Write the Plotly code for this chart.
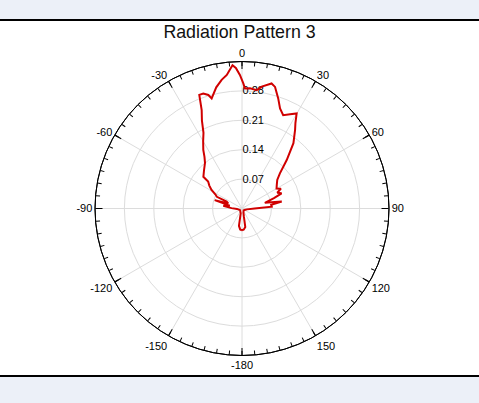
import plotly.graph_objects as go

# Pattern samples (angle in degrees, clockwise from top)
theta = [-180, -175, -170, -165, -150, -130, -110, -95, -88, -82, -77, -73, -70, -66, -65,
         -62, -58.6, -55, -51.5, -50.6, -45, -39, -36, -33.5, -30, -27, -24.5, -22.3, -20.6,
         -18.6, -16.5, -15.4, -12, -9, -6.5, -3.8, -2.5, -0.9, 0.6, 1.4, 3.8, 7.1, 9.2, 13.3,
         15.2, 18.2, 20.8, 23.8, 27, 29.9, 32, 34, 38.2, 42.7, 47.2, 51, 55.9, 60, 63, 66, 69,
         72, 76, 80, 83, 86.5, 90, 100, 120, 140, 160, 167, 170, 175, 180]
radius = [0.052, 0.050, 0.042, 0.012, 0.008, 0.006, 0.008, 0.012, 0.025, 0.045, 0.030, 0.068,
          0.035, 0.040, 0.066, 0.072, 0.085, 0.095, 0.103, 0.119, 0.128, 0.140, 0.152, 0.167,
          0.185, 0.202, 0.230, 0.253, 0.289, 0.289, 0.282, 0.272, 0.295, 0.310, 0.320, 0.342,
          0.335, 0.318, 0.298, 0.286, 0.287, 0.284, 0.294, 0.306, 0.300, 0.276, 0.255, 0.243,
          0.252, 0.261, 0.240, 0.226, 0.198, 0.157, 0.123, 0.108, 0.100, 0.095, 0.104, 0.092,
          0.101, 0.080, 0.056, 0.096, 0.070, 0.071, 0.030, 0.012, 0.007, 0.006, 0.010, 0.020,
          0.045, 0.050, 0.052]

major_vals = [0, 30, 60, 90, 120, 150, 180, 210, 240, 270, 300, 330]
major_text = ["0", "30", "60", "90", "120", "150", "-180", "-150", "-120", "-90", "-60", "-30"]
minor_vals = list(range(0, 360, 5))
radial_ticks = [0.07, 0.14, 0.21, 0.28]
radial_text = ["0.07", "0.14", "0.21", "0.28"]
title_text = "Radiation Pattern 3"

W, H = 479, 403
cx, cy, R = 242, 208.5, 147
dom_x = [(cx - R) / W, (cx + R) / W]
dom_y = [1 - (cy + R) / H, 1 - (cy - R) / H]
font = "Arial, Liberation Sans, sans-serif"

fig = go.Figure()
# invisible anchor trace so that the base polar (grid, labels) is drawn
fig.add_trace(go.Scatterpolar(r=[0], theta=[0], mode="markers", marker=dict(opacity=0),
                              subplot="polar", showlegend=False, hoverinfo="skip"))
fig.add_trace(go.Scatterpolar(r=radius, theta=theta, mode="lines",
                              line=dict(color="#d00000", width=2), subplot="polar2",
                              showlegend=False, hoverinfo="skip"))

fig.update_layout(
    width=W, height=H,
    margin=dict(l=0, r=0, t=0, b=0),
    paper_bgcolor="#ecf0f8",
    plot_bgcolor="white",
    showlegend=False,
    title=dict(text=title_text, x=0.5, xanchor="center", y=1 - 32 / H, yanchor="middle",
               yref="container", font=dict(family=font, size=17.8, color="#111")),
    polar=dict(
        domain=dict(x=dom_x, y=dom_y),
        bgcolor="white",
        angularaxis=dict(rotation=90, direction="clockwise", tickmode="array",
                         tickvals=major_vals, ticktext=major_text, ticks="inside", ticklen=7,
                         tickcolor="black", showline=True, linecolor="black", linewidth=1,
                         showgrid=True, gridcolor="#dcdcdc", gridwidth=1,
                         tickfont=dict(family=font, size=11, color="#000")),
        radialaxis=dict(range=[0, 0.35], tickmode="array", tickvals=radial_ticks,
                        ticktext=radial_text, angle=90, tickangle=90, showline=False, ticks="",
                        gridcolor="#dcdcdc", gridwidth=1,
                        tickfont=dict(family=font, size=11, color="#000")),
    ),
    polar2=dict(
        domain=dict(x=dom_x, y=dom_y),
        bgcolor="rgba(0,0,0,0)",
        angularaxis=dict(rotation=90, direction="clockwise", tickmode="array",
                         tickvals=minor_vals, ticks="inside", ticklen=4, tickcolor="black",
                         showticklabels=False, showline=True, linecolor="black",
                         showgrid=False),
        radialaxis=dict(range=[0, 0.35], visible=False),
    ),
    shapes=[
        dict(type="rect", xref="paper", yref="paper", x0=0, x1=1,
             y0=1 - 376 / H, y1=1 - 20 / H, fillcolor="white", line=dict(width=0),
             layer="below"),
        dict(type="line", xref="paper", yref="paper", x0=0, x1=1,
             y0=1 - 20 / H, y1=1 - 20 / H, line=dict(color="black", width=2)),
        dict(type="line", xref="paper", yref="paper", x0=0, x1=1,
             y0=1 - 376 / H, y1=1 - 376 / H, line=dict(color="black", width=2)),
    ],
)

fig.write_html("out.html", config={"displayModeBar": False},
               post_script="document.body.style.margin='0';")
